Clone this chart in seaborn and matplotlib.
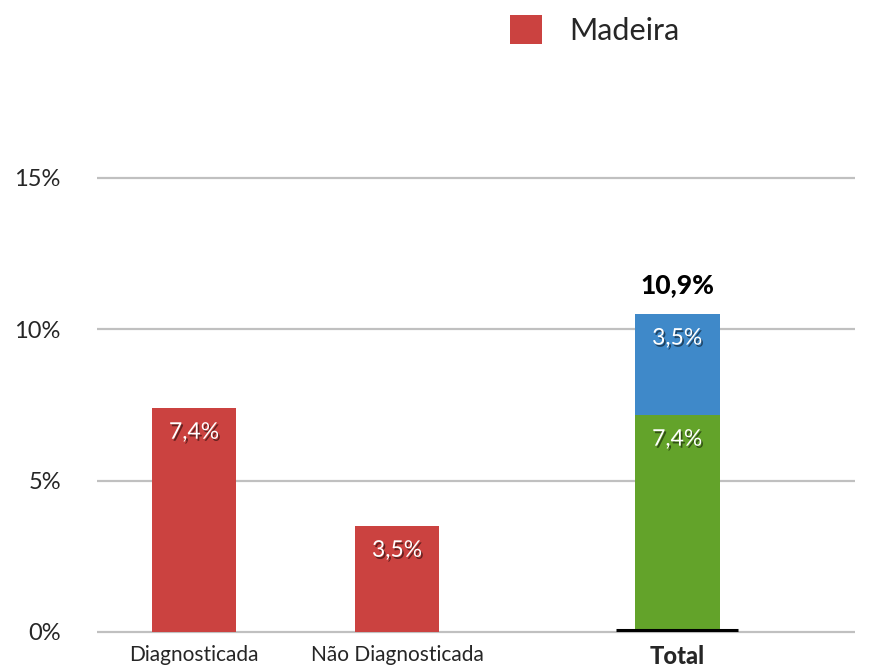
import matplotlib
matplotlib.use("Agg")
import matplotlib.pyplot as plt
import matplotlib.patheffects as pe
from matplotlib.patches import Patch
import seaborn as sns
import pandas as pd

# ---------------------------------------------------------------
# Data
categories = ['Diagnosticada', 'Não Diagnosticada', 'Total']
madeira = [7.4, 3.5]                 # red bars (Madeira)
total_diag = 7.17                    # green segment of the Total bar (as drawn)
total_nao = 3.34                     # blue segment on top (as drawn)
madeira_labels = ['7,4%', '3,5%']
total_labels = ['7,4%', '3,5%']
total_sum_label = '10,9%'
yticks = [0, 5, 10, 15]
ytick_labels = ['0%', '5%', '10%', '15%']

# layout: x positions of the three groups (Total sits further right)
xpos = [0, 1, 2.38]

# ---------------------------------------------------------------
red = '#cb4240'
green = '#63a32a'
blue = '#3f89c9'

sns.set_style("white")
plt.rcParams['font.family'] = ['Lato', 'DejaVu Sans']

fig = plt.figure(figsize=(8.85, 6.67), dpi=100)
ax = fig.add_axes([0.1096, 0.048, 0.8565, 0.6897])

red_df = pd.DataFrame({'pos': xpos[:2], 'value': madeira})
tot_df = pd.DataFrame({'pos': [xpos[2]], 'value': [total_diag + total_nao]})
green_df = pd.DataFrame({'pos': [xpos[2]], 'value': [total_diag]})

sns.barplot(data=red_df, x='pos', y='value', native_scale=True, color=red,
            saturation=1, width=0.41, ax=ax, zorder=3, linewidth=0)
sns.barplot(data=tot_df, x='pos', y='value', native_scale=True, color=blue,
            saturation=1, width=0.42, ax=ax, zorder=3, linewidth=0)
sns.barplot(data=green_df, x='pos', y='value', native_scale=True, color=green,
            saturation=1, width=0.42, ax=ax, zorder=4, linewidth=0)

shadow = [pe.withSimplePatchShadow(offset=(1.2, -1.5), shadow_rgbFace='black', alpha=0.5)]

# labels inside the bars
for x, v, lab in zip(xpos[:2], madeira, madeira_labels):
    ax.text(x, v - 0.8, lab, ha='center', va='center', color='white',
            fontsize=16.5, zorder=6, path_effects=shadow)
ax.text(xpos[2], total_diag - 0.8, total_labels[0], ha='center', va='center',
        color='white', fontsize=16.5, zorder=6, path_effects=shadow)
ax.text(xpos[2], total_diag + total_nao - 0.8, total_labels[1], ha='center',
        va='center', color='white', fontsize=16.5, zorder=6, path_effects=shadow)
ax.text(xpos[2], total_diag + total_nao + 0.95, total_sum_label, ha='center',
        va='center', color='black', fontsize=19, fontweight='black', zorder=6)

# black base line under the Total bar
ax.hlines(0.08, xpos[2] - 0.30, xpos[2] + 0.30, color='black', linewidth=2.2, zorder=5)

# axes styling
ax.set_ylim(-0.1, 15.1)
ax.set_xlim(-0.478, 3.256)
ax.set_yticks(yticks)
ax.set_yticklabels(ytick_labels, fontsize=17)
ax.set_xticks(xpos)
ax.set_xticklabels(categories, fontsize=15)
ax.get_xticklabels()[2].set_fontweight('black')
ax.get_xticklabels()[2].set_fontsize(17)
ax.tick_params(axis='y', length=0, pad=26)
ax.tick_params(axis='x', length=0, pad=7)
ax.set_xlabel('')
ax.set_ylabel('')
ax.yaxis.grid(True, color='#c0c0c0', linewidth=1.6, zorder=0)
ax.xaxis.grid(False)
ax.set_axisbelow(True)
for s in ax.spines.values():
    s.set_visible(False)

# legend
handle = Patch(facecolor=red, edgecolor='none', label='Madeira')
fig.legend(handles=[handle], loc='center', bbox_to_anchor=(0.672, 0.955),
           frameon=False, fontsize=22, handlelength=1.05, handleheight=1.05,
           handletextpad=0.9)

fig.savefig('out.png', dpi=100)
